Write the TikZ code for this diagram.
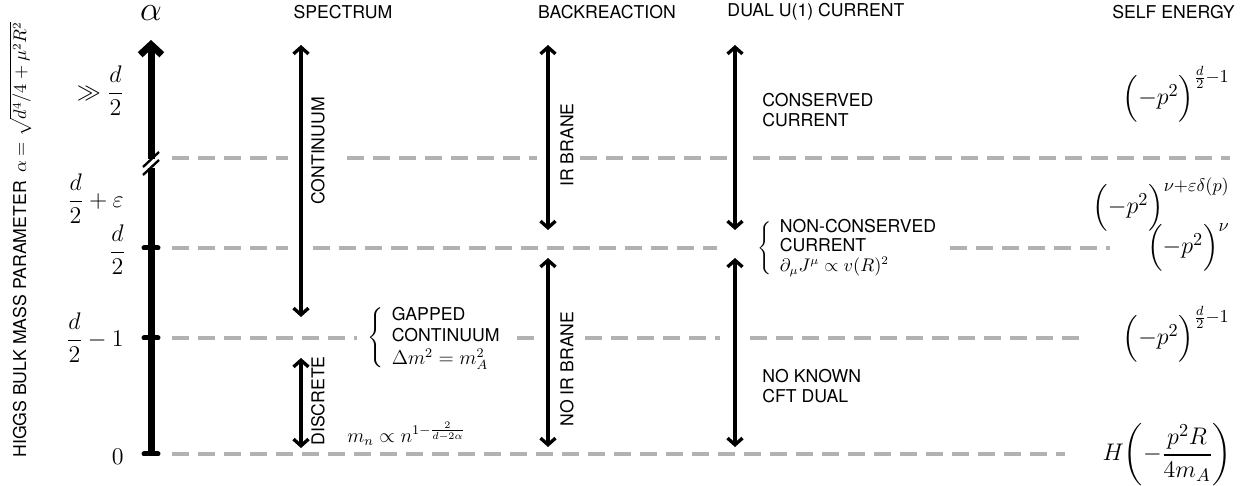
\documentclass[tikz,border=0pt]{standalone}
\usepackage{amsmath,amssymb}
\usepackage{fontspec}
\setsansfont{TeX Gyre Heros}
\usetikzlibrary{arrows.meta}

\begin{document}
\begin{tikzpicture}[x=0.6pt,y=-0.6pt,
  txt/.style={font=\sffamily\fontsize{10.6}{11.6}\selectfont,inner sep=0pt},
  vlabel/.style={txt,rotate=90},
  spanarrow/.style={line width=2pt,{Straight Barb[length=4pt,width=9pt]}-{Straight Barb[length=4pt,width=9pt]}},
  levelline/.style={line width=2.4pt,black!30,dash pattern=on 10.2pt off 5.4pt},
  axistick/.style={line width=3pt,line cap=round},
  mathlbl/.style={font=\fontsize{14.4}{17}\selectfont,inner sep=0pt},
  selflbl/.style={font=\fontsize{15.6}{18}\selectfont,inner sep=0pt,anchor=base east}]
  \useasboundingbox (0,0) rectangle (1240,486);

  % level lines
  \foreach \y/\xa/\xb in {158/172/288, 158/347/537, 158/580/727, 158/753/1230,
                          248/172/288, 248/313/717, 248/950/1110,
                          338/172/357, 338/517/535, 338/585/720, 338/750/1083,
                          454/172/1065}
    \draw[levelline] (\xa,\y) -- (\xb,\y);

  % alpha axis
  \coordinate (ax-bot) at (151,454);
  \coordinate (ax-top) at (151,40);
  \draw[line width=4.2pt] (ax-bot) -- (151,168);
  \draw[line width=4.2pt,-{Straight Barb[length=6pt,width=13pt]}] (151,159) -- (ax-top);
  \draw[line width=1.4pt] (143,167) -- (159,152);
  \draw[line width=1.4pt] (143,175) -- (159,160);
  \foreach \y in {248,338,454}
    \draw[axistick] (144,\y) -- (158,\y);
  \node[font=\fontsize{20.74}{22}\selectfont,inner sep=0pt] (alpha) at (151,13) {$\alpha$};

  \node[mathlbl,anchor=east] (lvl-big) at (124,91) {$\gg\dfrac{d}{2}$};
  \node[mathlbl,anchor=east] (lvl-eps) at (124,199) {$\dfrac{d}{2}+\varepsilon$};
  \node[mathlbl,anchor=east] (lvl-half) at (126,250) {$\dfrac{d}{2}$};
  \node[mathlbl,anchor=east] (lvl-one) at (124,338) {$\dfrac{d}{2}-1$};
  \node[mathlbl,anchor=east] (lvl-zero) at (124,457) {$0$};

  \node[vlabel,anchor=base west] (param) at (26,458)
    {HIGGS BULK MASS PARAMETER\hspace{5pt}$\alpha=\sqrt{d^4/4+\mu^2R^2}$};

  % headers
  \node[txt] (h-spec) at (343,12) {SPECTRUM};
  \node[txt] (h-back) at (607,12) {BACKREACTION};
  \node[txt] (h-dual) at (816,12) {DUAL U(1) CURRENT};
  \node[txt,anchor=east] (h-self) at (1235,12) {SELF ENERGY};

  % spectrum
  \coordinate (cont-top) at (301,45);
  \coordinate (cont-bot) at (301,317);
  \coordinate (disc-top) at (301,358);
  \coordinate (disc-bot) at (301,448);
  \draw[spanarrow] (cont-top) -- (cont-bot);
  \draw[spanarrow] (disc-top) -- (disc-bot);
  \node[vlabel] (cont) at (318,151) {CONTINUUM};
  \node[vlabel] (disc) at (318,401) {DISCRETE};
  \node[txt,anchor=west] (gapped) at (367,338)
    {\fontsize{12}{13}\selectfont$\left\{\hspace{5pt}\begin{tabular}{@{}l@{}}\fontsize{10.6}{11.6}\selectfont GAPPED\\\fontsize{10.6}{11.6}\selectfont CONTINUUM\\$\Delta m^2=m_A^2$\end{tabular}\right.$};
  \node[anchor=west,inner sep=0pt,font=\fontsize{12}{13}\selectfont] (mn) at (347,434) {$m_n\propto n^{1-\frac{2}{d-2\alpha}}$};

  % backreaction
  \coordinate (ir-top) at (548,45);
  \coordinate (ir-bot) at (548,230);
  \coordinate (noir-top) at (548,258);
  \coordinate (noir-bot) at (548,447);
  \draw[spanarrow] (ir-top) -- (ir-bot);
  \draw[spanarrow] (noir-top) -- (noir-bot);
  \node[vlabel] (ir) at (567,145) {IR BRANE};
  \node[vlabel] (noir) at (567,369) {NO IR BRANE};

  % dual current
  \coordinate (cons-top) at (735,45);
  \coordinate (cons-bot) at (735,230);
  \coordinate (nocft-top) at (735,258);
  \coordinate (nocft-bot) at (735,447);
  \draw[spanarrow] (cons-top) -- (cons-bot);
  \draw[spanarrow] (nocft-top) -- (nocft-bot);
  \node[txt,anchor=west,align=left] (cons) at (762,110) {CONSERVED\\CURRENT};
  \node[txt,anchor=west] (noncons) at (757,248)
    {$\left\{\hspace{5pt}\begin{tabular}{@{}l@{}}NON-CONSERVED\\CURRENT\\$\partial_\mu J^\mu\propto v(R)^2$\end{tabular}\right.$};
  \node[txt,anchor=west,align=left] (nocft) at (762,386) {NO KNOWN\\CFT DUAL};

  % self energy
  \node[selflbl] (se-top) at (1230,105) {$\Bigl(-p^2\Bigr)^{\frac{d}{2}-1}$};
  \node[selflbl] (se-eps) at (1230,214) {$\Bigl(-p^2\Bigr)^{\nu+\varepsilon\delta(p)}$};
  \node[selflbl] (se-half) at (1230,254) {$\Bigl(-p^2\Bigr)^{\nu}$};
  \node[selflbl] (se-one) at (1230,345) {$\Bigl(-p^2\Bigr)^{\frac{d}{2}-1}$};
  \node[selflbl] (se-zero) at (1232,461) {$H\mathopen{}\left(-\dfrac{p^2R}{4m_A}\right)$};
\end{tikzpicture}
\end{document}
